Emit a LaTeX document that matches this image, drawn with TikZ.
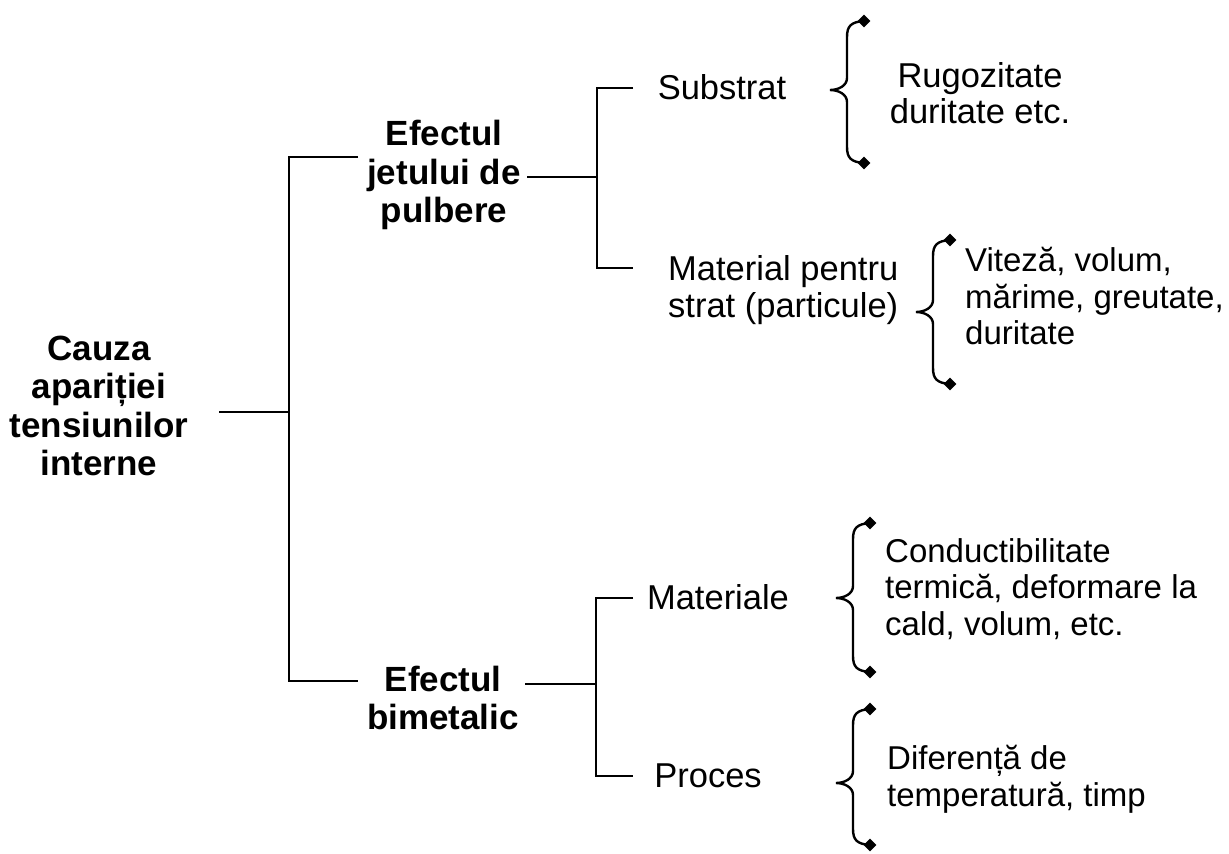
\documentclass[tikz,border=0pt]{standalone}
\usepackage{fontspec}
\setmainfont{Liberation Sans}
\usetikzlibrary{shapes.geometric}
\tikzset{
  boldtxt/.style={font=\fontsize{35}{38.5}\selectfont\bfseries, align=center, inner sep=0pt},
  plaintxt/.style={font=\fontsize{34.5}{36.5}\selectfont, align=center, inner sep=0pt},
  lefttxt/.style={font=\fontsize{33}{36.5}\selectfont, align=left, anchor=west, inner sep=0pt},
  conn/.style={line width=2.9pt},
  brc/.style={line width=2.4pt, line cap=round},
  tipmark/.style={diamond, fill=black, inner sep=0pt, minimum size=13pt}
}
% #1 prefix, #2 vertical x, #3 top y, #4 cusp y, #5 bottom y
\newcommand\mybrace[5]{%
  \path ({#2+17},{#3}) node[tipmark] (#1t) {}
        ({#2+17},{#5}) node[tipmark] (#1b) {}
        ({#2-17},{#4}) coordinate (#1c);
  \draw[brc] (#1t.center) .. controls ({#2+4},{#3+1}) and ({#2},{#3+5}) .. ({#2},{#3+16})
     -- ({#2},{#4-12}) .. controls ({#2},{#4-4}) and ({#2-9},{#4}) .. (#1c)
     .. controls ({#2-9},{#4}) and ({#2},{#4+4}) .. ({#2},{#4+12})
     -- ({#2},{#5-16}) .. controls ({#2},{#5-5}) and ({#2+4},{#5-1}) .. (#1b.center);
}
\begin{document}
\begin{tikzpicture}[x=1pt,y=-1pt]
\useasboundingbox[fill=white] (0,0) rectangle (1229,854);

% text nodes
\node[boldtxt] (root) at (99,406) {Cauza\\apariției\\tensiunilor\\interne};
\node[boldtxt] (jet) at (444,175) {Efectul\\jetului de\\pulbere};
\node[boldtxt] (bim) at (443,698) {Efectul\\bimetalic};
\node[plaintxt] (sub) at (722,87) {Substrat};
\node[plaintxt, align=left, anchor=west] (mat) at (668,290) {Material pentru\\strat (particule)};
\node[plaintxt] (mtl) at (718,597) {Materiale};
\node[plaintxt] (pro) at (708,776) {Proces};
\node[plaintxt] (rug) at (980,93) {Rugozitate\\duritate etc.};
\node[lefttxt] (vit) at (965,296) {Viteză, volum,\\mărime, greutate,\\duritate};
\node[lefttxt] (con) at (885,589) {Conductibilitate\\termică, deformare la\\cald, volum, etc.};
\node[lefttxt] (dif) at (887,779) {Diferență de\\temperatură, timp};

% tree junction coordinates
\coordinate (r0) at (219,412);
\coordinate (r1) at (289,412);
\coordinate (rt) at (289,157);
\coordinate (rb) at (289,681);
\coordinate (rte) at (358,157);
\coordinate (rbe) at (358,681);
\coordinate (j0) at (527,177);
\coordinate (j1) at (597,177);
\coordinate (jt) at (597,88);
\coordinate (jb) at (597,268);
\coordinate (jte) at (633,88);
\coordinate (jbe) at (633,268);
\coordinate (b0) at (525,684);
\coordinate (b1) at (596,684);
\coordinate (bt) at (596,598);
\coordinate (bb) at (596,776);
\coordinate (bte) at (633,598);
\coordinate (bbe) at (633,776);

\draw[conn] (r0) -- (r1);
\draw[conn] (rte) -- (rt) -- (rb) -- (rbe);
\draw[conn] (j0) -- (j1);
\draw[conn] (jte) -- (jt) -- (jb) -- (jbe);
\draw[conn] (b0) -- (b1);
\draw[conn] (bte) -- (bt) -- (bb) -- (bbe);

% braces
\mybrace{ba}{847}{21}{90}{163}
\mybrace{bc}{933}{240}{312}{384}
\mybrace{bd}{853}{523}{598}{672}
\mybrace{be}{853}{709}{783}{845}
\end{tikzpicture}
\end{document}
